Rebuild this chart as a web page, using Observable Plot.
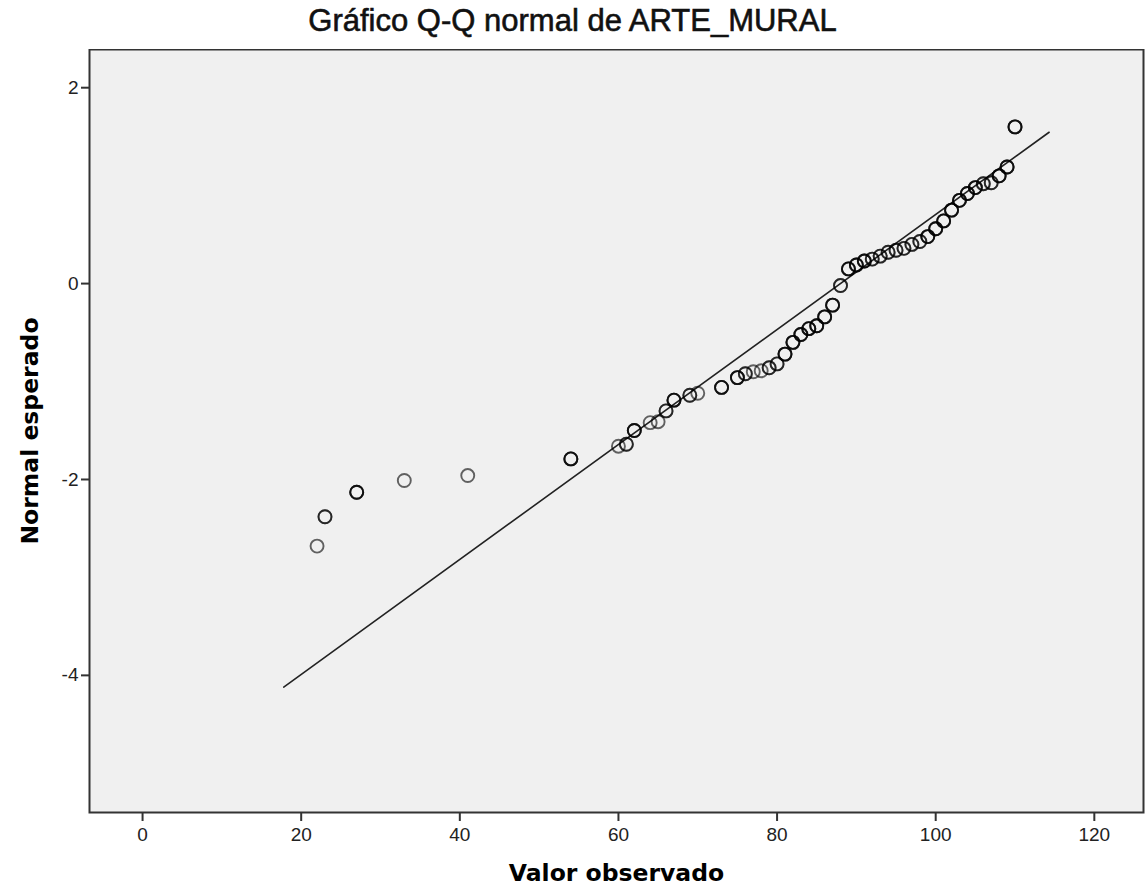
<!DOCTYPE html>
<html>
<head>
<meta charset="utf-8">
<script src="https://cdn.jsdelivr.net/npm/d3@7"></script>
<script src="https://cdn.jsdelivr.net/npm/@observablehq/plot@0.6"></script>
<style>
  body { margin: 0; background: #fff; }
  #title {
    box-sizing: border-box; width: 1145px; height: 49px; padding-top: 5px;
    text-align: center; font-family: "Liberation Sans", Arial, sans-serif;
    font-size: 31px; font-weight: normal; line-height: 32px; color: #111;
    -webkit-text-stroke: 0.6px #111;
  }
  #chart svg { display: block; }
</style>
</head>
<body>
<div id="title">Gráfico Q-Q normal de ARTE_MURAL</div>
<div id="chart"></div>
<script>
// Observed values (x) and their expected normal quantiles (y)
const observed = [22, 23, 27, 33, 41, 54, 60, 61, 62, 64, 65, 66, 67, 69, 70, 73, 75, 76, 77, 78, 79, 80,
  81, 82, 83, 84, 85, 86, 87, 88, 89, 90, 91, 92, 93, 94, 95, 96, 97, 98, 99, 100,
  101, 102, 103, 104, 105, 106, 107, 108, 109, 110];
const expected = [-2.68, -2.38, -2.13, -2.01, -1.96, -1.79, -1.66, -1.64, -1.50, -1.42, -1.41, -1.30, -1.19, -1.14, -1.12, -1.06, -0.96, -0.92, -0.90, -0.89, -0.86, -0.82,
  -0.72, -0.60, -0.52, -0.46, -0.43, -0.34, -0.22, -0.02, 0.15, 0.19, 0.23, 0.25, 0.28, 0.32, 0.34, 0.36, 0.40, 0.43, 0.48, 0.56,
  0.64, 0.75, 0.85, 0.92, 0.98, 1.02, 1.03, 1.10, 1.19, 1.60];
// Number of tied observations drawn at each point (overlapping markers look darker)
const ties = [1, 2, 3, 1, 1, 3, 1, 2, 3, 1, 1, 2, 3, 2, 1, 3, 3, 2, 1, 1, 2, 2,
  3, 3, 3, 3, 3, 3, 3, 2, 3, 3, 3, 2, 2, 2, 2, 2, 2, 2, 3, 3,
  3, 3, 3, 3, 3, 2, 2, 3, 3, 3];
// Reference normal line endpoints
const refX = [17.8, 114.3];
const refY = [-4.12, 1.545];
// Axis ticks
const xTicks = [0, 20, 40, 60, 80, 100, 120];
const yTicks = [-4, -2, 0, 2];

const points = observed.flatMap((x, i) => d3.range(ties[i]).map(() => ({x, y: expected[i]})));
const refLine = refX.map((x, i) => ({x, y: refY[i]}));

const chart = Plot.plot({
  width: 1145,
  height: 845,
  marginTop: 0,
  marginLeft: 89,
  marginRight: 2,
  marginBottom: 82,
  x: {domain: [-6.69, 126.2], label: null},
  y: {domain: [-5.4, 2.39], label: null},
  style: {fontFamily: "'Liberation Sans', Arial, sans-serif", fontSize: "19px", color: "#222", background: "#fff"},
  marks: [
    Plot.frame({fill: "#f0f0f0"}),
    Plot.line(refLine, {x: "x", y: "y", stroke: "#222", strokeWidth: 1.6}),
    Plot.dot(points, {x: "x", y: "y", r: 6.5, stroke: "#000", strokeWidth: 1.9, strokeOpacity: 0.6}),
    Plot.frame({stroke: "#333", strokeWidth: 2}),
    Plot.axisX({ticks: xTicks, tickFormat: d => String(d), tickSize: 9, tickPadding: 6, label: null, stroke: "#333", strokeWidth: 2, strokeOpacity: 1}),
    Plot.axisY({ticks: yTicks, tickFormat: d => String(d), tickSize: 8, tickPadding: 3, label: null, stroke: "#333", strokeWidth: 2, strokeOpacity: 1}),
    Plot.text(["Valor observado"], {frameAnchor: "bottom", dy: 68, text: d => d, textAnchor: "middle", fontWeight: "bold", fontSize: 23.5, fontFamily: "'DejaVu Sans', sans-serif", fill: "#000"}),
    Plot.text(["Normal esperado"], {frameAnchor: "left", dx: -59, rotate: -90, text: d => d, textAnchor: "middle", fontWeight: "bold", fontSize: 23.5, fontFamily: "'DejaVu Sans', sans-serif", fill: "#000"})
  ]
});
document.getElementById("chart").appendChild(chart);
</script>
</body>
</html>
